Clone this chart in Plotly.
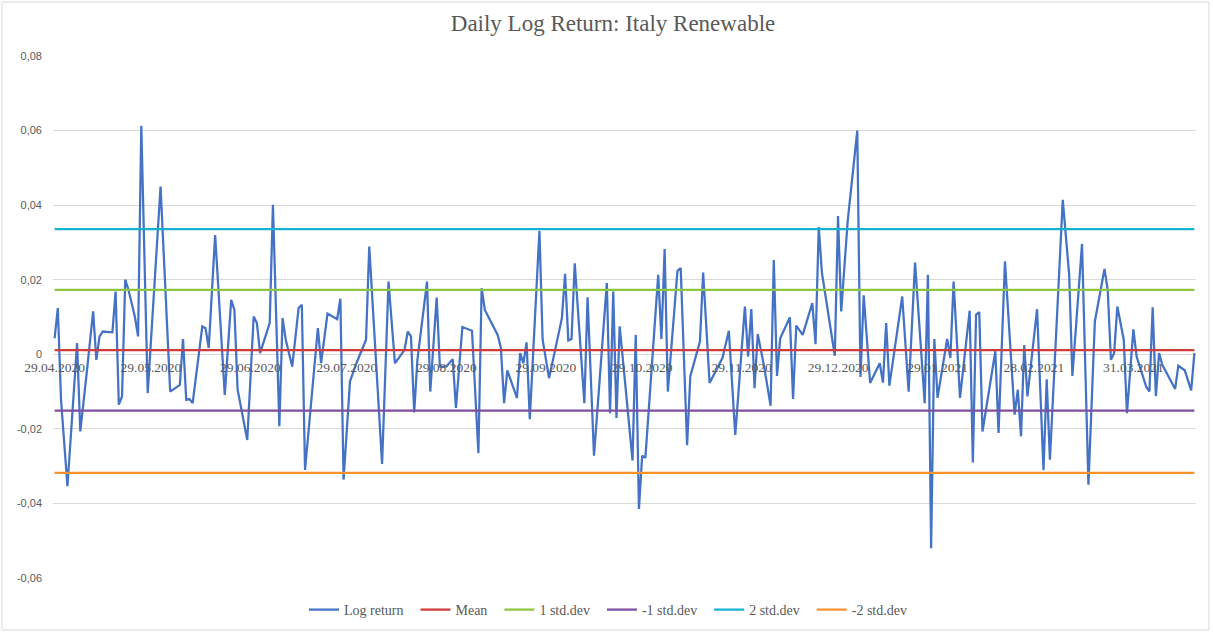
import pandas as pd
import plotly.graph_objects as go

# ---------------- data ----------------
start_date = "2020-04-29"
day_offsets = [
    0, 1, 2, 4, 7, 8, 10, 12, 13, 14, 15, 18, 19, 20, 21, 22, 23, 25, 26, 27, 29, 31, 33, 36, 39, 40, 41, 42, 43,
    46, 47, 48, 50, 53, 55, 56, 57, 60,
    62, 63, 64, 67, 68, 70, 71, 72, 74, 76, 77, 78, 80, 82, 83, 85, 88, 89, 90, 92, 94, 97, 98, 100, 102, 104,
    106, 109, 110, 111, 112, 113, 116, 117, 119, 120, 122, 124, 125, 127, 130, 132,
    133, 134, 138, 139, 140, 141, 143, 144, 145, 146, 147, 148, 151, 152, 154, 158, 159, 160, 161, 162, 165, 166,
    168, 172, 173, 174, 175, 176, 178, 180, 181, 182, 183, 184, 186, 188, 189, 190, 191, 194, 195, 197, 198, 201, 202,
    204, 208, 210, 212, 215, 216, 217, 218, 219, 221, 223, 224, 225, 226, 229, 230, 231, 233, 236, 237, 238, 239,
    243, 244, 245, 247, 250, 251, 252, 254, 257, 258, 259, 260, 264, 266, 268, 271, 272, 273, 274,
    275, 278, 279, 280, 282, 285, 286, 287, 288, 289, 293, 294, 296, 299, 300, 301, 302, 303, 306, 308, 309, 310,
    314, 316, 317, 320, 322, 324, 327, 328, 329, 330, 331, 333, 334, 336, 337, 340, 341, 342, 343, 344, 345, 347,
    349, 350, 352, 354, 355,
]
log_return_permille = [
    4.3, 12.4, -12.2, -35.4, 3.0, -20.7, -5.0, 11.5, -1.5, 4.8, 6.1, 5.9, 16.8, -13.5, -11.3, 20.0, 17.3, 10.1, 4.8,
    61.3, -10.4, 17.3, 45.0, -10.0, -8.2, 4.1, -12.2, -12.0, -13.1, 7.5, 7.0, 1.7, 32.0, -10.9, 14.6, 11.9, -9.5, -23.0,
    10.1, 8.4, 0.3, 8.4, 40.1, -19.3, 9.7, 3.9, -3.3, 12.4, 13.3, -31.0, -12.2, 7.0, -2.4, 10.9, 9.4, 14.9, -33.6,
    -7.3, -2.4, 3.9, 28.9, 0.3, -29.4, 19.5, -2.4, 1.2, 6.1, 4.8, -15.6, -1.5, 19.5, -10.0, 15.2, -3.3, -3.3, -1.3,
    -14.4, 7.3, 6.3, -26.5,
    17.7, 11.9, 5.2, 1.7, -13.1, -4.3, -9.1, -11.7, 0.3, -2.4, 3.2, -17.4, 33.1, 3.9, -6.4, 9.7, 21.6, 3.7, 4.1, 24.4,
    -13.1, 15.3, -27.2, 19.1, -15.8, 16.8, -17.1, 7.5, -10.4, -28.5, 5.2, -41.5, -27.2, -27.8, -3.3, 21.3, 4.1, 28.2,
    -10.0, 22.4, 23.1, -24.4, -5.9, 3.4, 21.9,
    -7.7, -1.0, 6.3, -21.6, 12.8, -0.6, 12.1, -9.1, 5.4, -3.3, -13.8, 25.3, -5.8, 4.3, 9.9, -12.0, 7.7, 5.2, 13.7,
    2.7, 34.1, 21.8, -0.4, 37.1, 11.5, 35.6, 60.0, -6.1, 15.8, -7.7, -2.4, -7.6, 8.4, -8.4, 15.5, -10.0, 24.6, -13.1,
    21.3, -52.0, 4.1,
    -11.7, 4.1, -1.0, 19.5, -11.7, 11.7, -29.0, 10.6, 11.3, -20.7, 0.8, -21.1, 24.9, -16.2, -9.5, -22.0, 2.5, -11.3,
    12.1, -31.1, -6.7, -28.3, 41.4, 21.3, -5.8, 29.6, -35.0, 8.8, 22.9, 17.3, -1.5, 0.3, 12.8, 3.9, -15.8, 6.7, -0.6,
    -8.7, -10.0, 12.6, -11.2, 0.3, -2.8, -5.9, -9.3, -3.1, -4.3, -9.7, 0.3,
]
mean_value = 0.0011
std_plus1 = 0.0173
std_minus1 = -0.0151
std_plus2 = 0.0336
std_minus2 = -0.0318

series_names = ["Log return", "Mean", "1 std.dev", "-1 std.dev", "2 std.dev", "-2 std.dev"]

tick_dates = ["2020-04-29", "2020-05-29", "2020-06-29", "2020-07-29", "2020-08-29", "2020-09-29",
              "2020-10-29", "2020-11-29", "2020-12-29", "2021-01-29", "2021-02-28", "2021-03-31"]
tick_labels = ["29.04.2020", "29.05.2020", "29.06.2020", "29.07.2020", "29.08.2020", "29.09.2020",
               "29.10.2020", "29.11.2020", "29.12.2020", "29.01.2021", "28.02.2021", "31.03.2021"]
y_ticks = [-0.06, -0.04, -0.02, 0.0, 0.02, 0.04, 0.06, 0.08]
y_labels = ["-0,06", "-0,04", "-0,02", "0", "0,02", "0,04", "0,06", "0,08"]

# ---------------- build ----------------
dates = pd.Timestamp(start_date) + pd.to_timedelta(day_offsets, unit="D")
values = [v / 1000.0 for v in log_return_permille]

W, H = 1213, 632
ML, MR, MT, MB = 53, 17, 56, 54
y_min, y_max = -0.06, 0.08
PAD = "\u00a0\u00a0"   # extra spacing between legend entries

fig = go.Figure()
fig.add_trace(go.Scatter(x=dates, y=values, mode="lines", name=series_names[0] + PAD,
                         line=dict(color="#4472C4", width=2.25)))

xs = [dates[0], dates[-1]]
levels = [mean_value, std_plus1, std_minus1, std_plus2, std_minus2]
colors = ["#D03B3B", "#8CC63F", "#7E4FA0", "#12B2D0", "#F7922F"]
for i, (val, col) in enumerate(zip(levels, colors)):
    name = series_names[i + 1] + (PAD if i < len(levels) - 1 else "")
    fig.add_trace(go.Scatter(x=xs, y=[val, val], mode="lines", name=name,
                             line=dict(color=col, width=2.25)))

pw = W - ML - MR
ph = H - MT - MB
def px_x(p):
    return (p - ML) / pw
def px_y(p):
    return (H - MB - p) / ph

fig.add_shape(type="rect", xref="paper", yref="paper",
              x0=px_x(2), x1=px_x(1209), y0=px_y(630), y1=px_y(2),
              line=dict(color="#d9d9d9", width=1), fillcolor="rgba(0,0,0,0)", layer="below")

fig.update_layout(
    width=W, height=H,
    margin=dict(l=ML, r=MR, t=MT, b=MB, autoexpand=False),
    paper_bgcolor="white", plot_bgcolor="white",
    title=dict(text="Daily Log Return: Italy Renewable", x=613 / W, xanchor="center",
               y=1 - 23 / H, yanchor="middle",
               font=dict(family="Liberation Serif", size=23, color="#595959")),
    showlegend=True,
    legend=dict(orientation="h", x=px_x(608), xanchor="center", y=px_y(610), yanchor="middle",
                font=dict(family="Liberation Serif", size=14, color="#595959"),
                bgcolor="rgba(0,0,0,0)", itemwidth=30),
    xaxis=dict(type="date",
               range=[pd.Timestamp(start_date) - pd.Timedelta(hours=12),
                      dates[-1] + pd.Timedelta(hours=12)],
               tickvals=tick_dates, ticktext=tick_labels,
               anchor="free", position=(0 - y_min) / (y_max - y_min),
               showgrid=False, zeroline=False, showline=False, ticks="",
               ticklabelstandoff=3,
               tickfont=dict(family="Liberation Serif", size=13.5, color="#595959")),
    yaxis=dict(range=[y_min, y_max], tickvals=y_ticks, ticktext=y_labels,
               showgrid=True, gridcolor="#d9d9d9", gridwidth=1,
               zeroline=False, showline=False, ticks="",
               ticklabelstandoff=10,
               tickfont=dict(family="Liberation Sans", size=11, color="#595959")),
)

fig.write_html("out.html", config={"displayModeBar": False},
               post_script="document.body.style.margin='0';")
